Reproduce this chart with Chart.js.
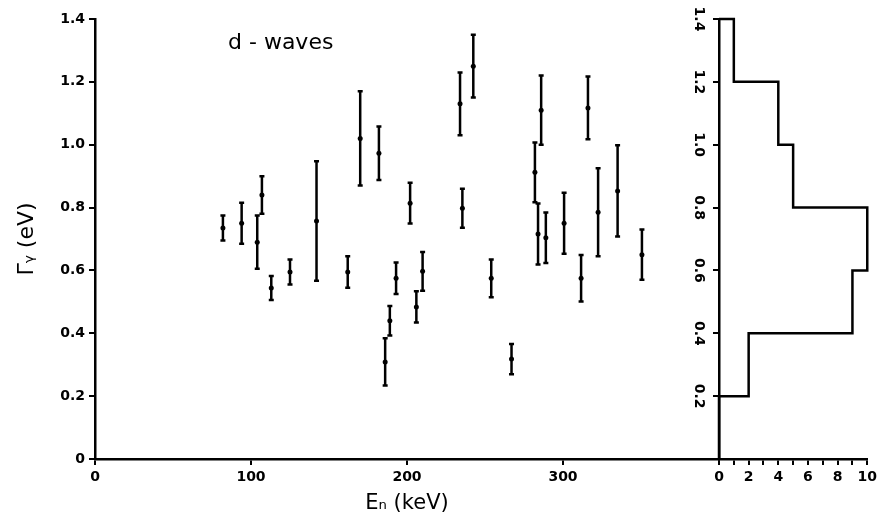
<!DOCTYPE html>
<html>
<head>
<meta charset="utf-8">
<script src="https://cdn.jsdelivr.net/npm/chart.js@4"></script>
<style>
  body { margin: 0; background: #fff; }
  #wrap { position: relative; width: 881px; height: 524px; }
  canvas { position: absolute; top: 0; }
  #main { left: 0; }
  #hist { left: 680px; }
</style>
</head>
<body>
<div id="wrap">
  <canvas id="main" width="740" height="524"></canvas>
  <canvas id="hist" width="201" height="524"></canvas>
</div>
<script>
// resonance energies (keV), radiation widths (eV) and their errors
const energies = [82, 94, 104, 107, 113, 125, 142, 162,
                  170, 182, 186, 189, 193, 202, 206, 210,
                  234, 235.5, 242.5, 254, 267,
                  282, 284, 286, 289, 300.7, 311.6, 316, 322.5, 335, 350.6];
const gammas   = [0.735, 0.75, 0.69, 0.84, 0.544, 0.595, 0.757, 0.595,
                  1.02, 0.973, 0.309, 0.44, 0.575, 0.814, 0.484, 0.597,
                  1.13, 0.798, 1.25, 0.575, 0.318,
                  0.912, 0.716, 1.11, 0.704, 0.75, 0.575, 1.117, 0.785, 0.853, 0.65];
const errors   = [0.04, 0.065, 0.085, 0.06, 0.038, 0.04, 0.19, 0.05,
                  0.15, 0.085, 0.075, 0.047, 0.05, 0.065, 0.05, 0.062,
                  0.1, 0.062, 0.1, 0.06, 0.048,
                  0.095, 0.097, 0.11, 0.08, 0.097, 0.074, 0.1, 0.14, 0.145, 0.08];

// histogram of widths, bins of 0.2 eV
const binEdges = [0, 0.2, 0.4, 0.6, 0.8, 1.0, 1.2, 1.4];
const counts   = [0, 2, 9, 10, 5, 4, 1];

const xTicks = [0, 100, 200, 300];
const yTicks = [0.2, 0.4, 0.6, 0.8, 1.0, 1.2, 1.4];

Chart.defaults.color = '#000';
Chart.defaults.font.family = 'DejaVu Sans';

const tickFont = { size: 14, weight: 'bold' };
const fmtY = v => v === 0 ? '0' : v.toFixed(1);

const errorBars = {
  id: 'errorBars',
  afterDatasetsDraw(chart) {
    const { ctx, scales: { x, y } } = chart;
    ctx.save();
    ctx.strokeStyle = '#000';
    ctx.lineWidth = 2.5;
    energies.forEach((e, i) => {
      const px = x.getPixelForValue(e);
      const top = y.getPixelForValue(gammas[i] + errors[i]);
      const bot = y.getPixelForValue(gammas[i] - errors[i]);
      ctx.beginPath();
      ctx.moveTo(px, top); ctx.lineTo(px, bot);
      ctx.moveTo(px - 2.5, top); ctx.lineTo(px + 2.5, top);
      ctx.moveTo(px - 2.5, bot); ctx.lineTo(px + 2.5, bot);
      ctx.stroke();
    });
    // panel label
    ctx.fillStyle = '#000';
    ctx.font = '22px "DejaVu Sans"';
    ctx.textBaseline = 'middle';
    ctx.fillText('d - waves', chart.chartArea.left + 133, chart.chartArea.top + 24);
    ctx.restore();
  }
};

new Chart(document.getElementById('main'), {
  type: 'scatter',
  data: {
    datasets: [{
      data: energies.map((e, i) => ({ x: e, y: gammas[i] })),
      pointRadius: 2.5,
      pointBackgroundColor: '#000',
      pointBorderWidth: 0
    }]
  },
  options: {
    responsive: false,
    animation: false,
    devicePixelRatio: 1,
    layout: { padding: { top: 19, right: 21, left: 0, bottom: 0 } },
    plugins: { legend: { display: false }, tooltip: { enabled: false } },
    scales: {
      x: {
        type: 'linear', min: 0, max: 400,
        afterBuildTicks: s => { s.ticks = xTicks.concat([400]).map(v => ({ value: v })); },
        afterFit: s => { s.height = 65; },
        ticks: { font: tickFont, padding: 4, callback: v => v === 400 ? '' : String(v), maxRotation: 0 },
        grid: { drawOnChartArea: false, tickLength: 6, color: '#000', lineWidth: 2 },
        border: { color: '#000', width: 2.5 },
        title: { display: true, text: 'Eₙ (keV)', font: { size: 21 }, padding: { top: 4, bottom: 8 } }
      },
      y: {
        min: 0, max: 1.4,
        afterBuildTicks: s => { s.ticks = [0].concat(yTicks).map(v => ({ value: v })); },
        afterFit: s => { s.width = 95; },
        ticks: { font: tickFont, padding: 4, callback: fmtY },
        grid: { drawOnChartArea: false, tickLength: 6, color: '#000', lineWidth: 2 },
        border: { color: '#000', width: 2.5 },
        title: { display: true, text: 'Γᵧ (eV)', font: { size: 22 }, padding: { top: 14, bottom: 4 } }
      }
    }
  },
  plugins: [errorBars]
});

// step outline of the histogram, built from the bins
const steps = [{ x: 0, y: binEdges[binEdges.length - 1] }];
for (let i = counts.length - 1; i >= 0; i--) {
  steps.push({ x: counts[i], y: binEdges[i + 1] });
  steps.push({ x: counts[i], y: binEdges[i] });
}

const rotatedLabels = {
  id: 'rotatedLabels',
  afterDraw(chart) {
    const { ctx, scales: { y } } = chart;
    ctx.save();
    ctx.fillStyle = '#000';
    ctx.font = 'bold 14px "DejaVu Sans"';
    ctx.textAlign = 'center';
    ctx.textBaseline = 'middle';
    yTicks.forEach(v => {
      ctx.save();
      ctx.translate(chart.chartArea.left - 20, y.getPixelForValue(v));
      ctx.rotate(Math.PI / 2);
      ctx.fillText(fmtY(v), 0, 0);
      ctx.restore();
    });
    ctx.restore();
  }
};

new Chart(document.getElementById('hist'), {
  type: 'scatter',
  data: {
    datasets: [{
      data: steps,
      showLine: true,
      borderColor: '#000',
      borderWidth: 2.5,
      pointRadius: 0,
      clip: false
    }]
  },
  options: {
    responsive: false,
    animation: false,
    devicePixelRatio: 1,
    layout: { padding: { top: 19, right: 9, left: 0, bottom: 0 } },
    plugins: { legend: { display: false }, tooltip: { enabled: false } },
    scales: {
      x: {
        type: 'linear', min: 0, max: 10,
        afterFit: s => { s.height = 65; },
        ticks: { stepSize: 1, autoSkip: false, font: tickFont, padding: 4, maxRotation: 0,
                 callback: v => v % 2 === 0 ? String(v) : '' },
        grid: { drawOnChartArea: false, tickLength: 6, color: '#000', lineWidth: 2 },
        border: { color: '#000', width: 2.5 }
      },
      y: {
        min: 0, max: 1.4,
        afterBuildTicks: s => { s.ticks = [0].concat(yTicks).map(v => ({ value: v })); },
        afterFit: s => { s.width = 39; },
        ticks: { display: true, callback: () => '' },
        grid: { drawOnChartArea: false, tickLength: 6, color: '#000', lineWidth: 2 },
        border: { color: '#000', width: 2.5 }
      }
    }
  },
  plugins: [rotatedLabels]
});
</script>
</body>
</html>
